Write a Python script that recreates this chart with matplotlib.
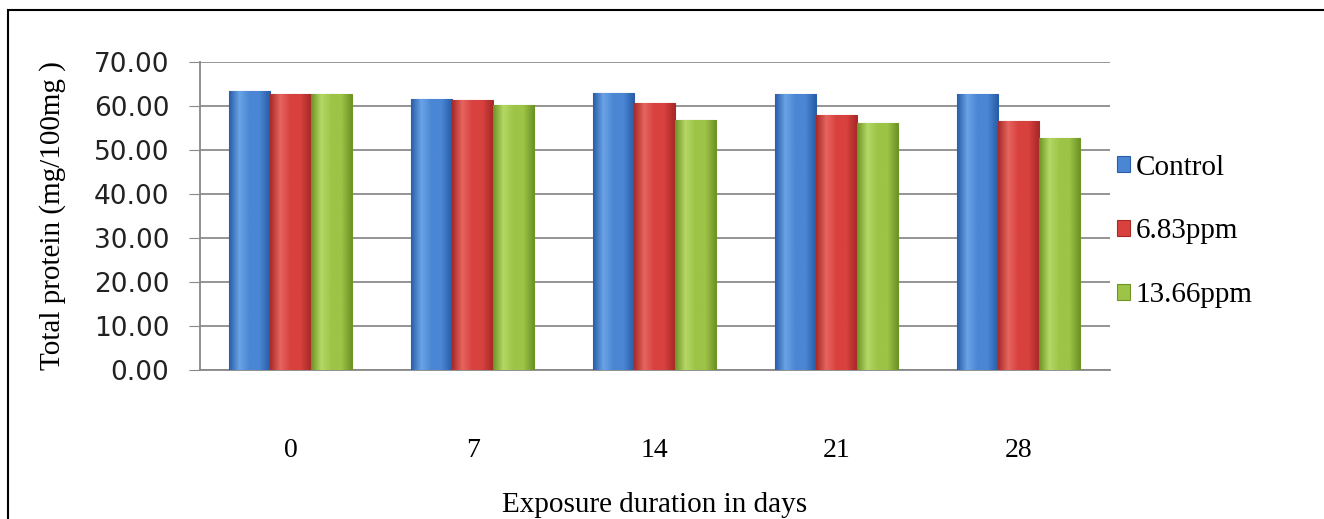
import numpy as np
import matplotlib
matplotlib.use('Agg')
import matplotlib.pyplot as plt
from matplotlib.colors import LinearSegmentedColormap
from matplotlib.patches import Rectangle

# data
days = ['0', '7', '14', '21', '28']
control = [63.5, 61.7, 63.0, 62.8, 62.8]
ppm_683 = [62.7, 61.4, 60.7, 57.9, 56.5]
ppm_1366 = [62.7, 60.2, 56.8, 56.2, 52.7]
series_names = ['Control', '6.83ppm', '13.66ppm']

# face / edge colours for the shaded bars
colors = ['#4a86d4', '#d8413e', '#9dc446']
dark = ['#2a5ea8', '#a82a28', '#6e9426']
light = ['#6aa3e6', '#e66560', '#b5d866']

serif = 'Liberation Serif'
fs = 20

fig = plt.figure(figsize=(13.24, 5.19), dpi=100)
ax = fig.add_axes([0.151, 0.287, 0.687, 0.5934])

x_pos = np.arange(len(days))
bar_width = 0.225

for i, vals in enumerate([control, ppm_683, ppm_1366]):
    rects = ax.bar(x_pos + (i - 1) * bar_width, vals, width=bar_width, color=colors[i],
                   edgecolor=dark[i], linewidth=0.8, label=series_names[i], zorder=3)
    cmap = LinearSegmentedColormap.from_list('g%d' % i, [dark[i], light[i], colors[i], colors[i], dark[i]])
    grad = np.linspace(0, 1, 64).reshape(1, -1)
    for r in rects:
        im = ax.imshow(grad, cmap=cmap, aspect='auto', zorder=3.5,
                       extent=(r.get_x(), r.get_x() + r.get_width(), 0, r.get_height()))
        im.set_clip_path(r)

ax.set_xlim(-0.5, len(days) - 0.5)
ax.set_ylim(0, 70)
ax.set_yticks(np.arange(0, 71, 10))
ax.set_yticklabels(['%.2f' % v for v in np.arange(0, 71, 10)], fontsize=19,
                   family='DejaVu Sans', color='#222222')
ax.set_xticks(x_pos)
ax.set_xticklabels(days, fontsize=fs, family=serif)
ax.tick_params(axis='x', length=0, pad=49)
ax.tick_params(axis='y', length=8, color='#888888', pad=14)
ax.yaxis.grid(True, color='#8c8c8c', linewidth=1.3, zorder=0)
ax.set_axisbelow(True)
for s in ['top', 'right']:
    ax.spines[s].set_visible(False)
ax.spines['left'].set_color('#888888')
ax.spines['bottom'].set_color('#888888')
ax.spines['left'].set_linewidth(1.3)
ax.spines['bottom'].set_linewidth(1.3)

ax.set_ylabel('Total protein (mg/100mg )', fontsize=21, family=serif, labelpad=20)
ax.set_xlabel('Exposure duration in days', fontsize=21, family=serif, labelpad=21)

leg = ax.legend(loc='center left', bbox_to_anchor=(0.995, 0.45), frameon=False,
                prop={'family': serif, 'size': 21}, handlelength=0.45, handleheight=0.45,
                handletextpad=0.2, labelspacing=1.3, borderaxespad=0.0)

# outer frame
fig.patches.append(Rectangle((8 / 1324, -0.1), 1.2, 1 - 10 / 519 + 0.1, transform=fig.transFigure,
                             fill=False, edgecolor='black', linewidth=1.5))

plt.savefig('out.png', dpi=100)
